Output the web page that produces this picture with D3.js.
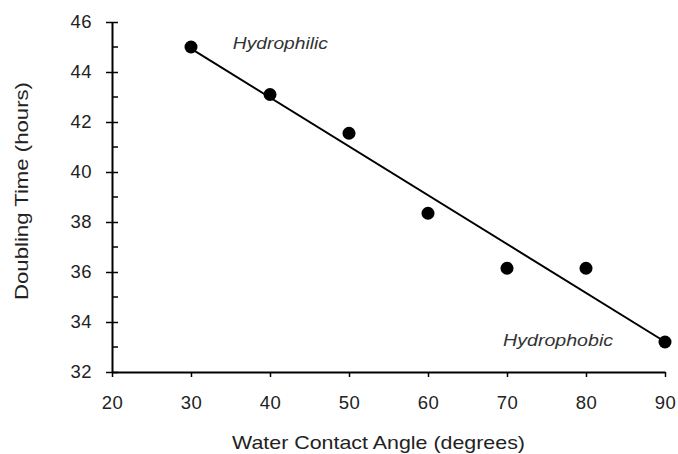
<!DOCTYPE html>
<html><head><meta charset="utf-8">
<script src="https://cdn.jsdelivr.net/npm/d3@7"></script>
<style>body{margin:0;background:#fff;}svg{display:block;}</style>
</head><body>
<svg id="c" width="678" height="454"></svg>
<script>
const angles = [30, 40, 50, 60, 70, 80, 90];
const doublingTimes = [45.0, 43.1, 41.55, 38.35, 36.15, 36.15, 33.2];
const xTicks = [20, 30, 40, 50, 60, 70, 80, 90];
const yTicks = [32, 34, 36, 38, 40, 42, 44, 46];
const yMinorTicks = [33, 35, 37, 39, 41, 43, 45];
const annotations = [
  {text: "Hydrophilic", x: 35.3, y: 44.92, len: 95},
  {text: "Hydrophobic", x: 69.5, y: 33.04, len: 110}
];

const svg = d3.select("#c");
const x = d3.scaleLinear().domain([20, 90]).range([112, 665]);
const y = d3.scaleLinear().domain([32, 46]).range([372, 22]);
const font = "'Liberation Sans', Arial, sans-serif";
const txt = "#222";

// regression line computed from data
const n = angles.length;
const mx = d3.mean(angles), my = d3.mean(doublingTimes);
let sxy = 0, sxx = 0;
for (let i = 0; i < n; i++) { sxy += (angles[i]-mx)*(doublingTimes[i]-my); sxx += (angles[i]-mx)**2; }
const slope = sxy / sxx, icpt = my - slope*mx;
const x0 = d3.min(angles), x1 = d3.max(angles);

// axes
const gx = svg.append("g").attr("transform", `translate(0,${y(32)})`)
  .call(d3.axisBottom(x).tickValues(xTicks).tickSize(5).tickPadding(19).tickSizeOuter(0));
const gy = svg.append("g").attr("transform", `translate(${x(20)},0)`)
  .call(d3.axisLeft(y).tickValues(yTicks).tickSize(6).tickPadding(14).tickSizeOuter(0));
// crossing part of major y ticks
gy.selectAll(".tick").append("line").attr("x2", 6).attr("stroke", "#000").attr("stroke-width", 1.5);
// minor y ticks inside
svg.append("g").selectAll("line").data(yMinorTicks).join("line")
  .attr("x1", x(20)).attr("x2", x(20)+6).attr("y1", d=>y(d)).attr("y2", d=>y(d))
  .attr("stroke", "#000").attr("stroke-width", 1.5);

[gx, gy].forEach(g => {
  g.select(".domain").attr("stroke", "#000").attr("stroke-width", 2);
  g.selectAll(".tick line").attr("stroke", "#000").attr("stroke-width", 1.5);
  g.selectAll(".tick text").attr("font-family", font).attr("font-size", 18.5).attr("fill", txt)
    .attr("letter-spacing", 0.5);
});

// fit line
svg.append("line")
  .attr("x1", x(x0)).attr("y1", y(slope*x0+icpt))
  .attr("x2", x(x1)).attr("y2", y(slope*x1+icpt))
  .attr("stroke", "#000").attr("stroke-width", 2);

// points
svg.append("g").selectAll("circle").data(angles).join("circle")
  .attr("cx", d=>x(d)).attr("cy", (d,i)=>y(doublingTimes[i])).attr("r", 6.5).attr("fill", "#000");

// annotations
svg.append("g").selectAll("text").data(annotations).join("text")
  .attr("x", d=>x(d.x)).attr("y", d=>y(d.y)).attr("text-anchor", "start")
  .attr("font-family", font).attr("font-style", "italic").attr("font-size", 16).attr("fill", "#333")
  .attr("textLength", d=>d.len).attr("lengthAdjust", "spacingAndGlyphs")
  .text(d=>d.text);

// axis titles
svg.append("text").attr("x", 232).attr("y", 449).attr("text-anchor", "start")
  .attr("font-family", font).attr("font-size", 19).attr("fill", txt)
  .attr("textLength", 293).attr("lengthAdjust", "spacingAndGlyphs")
  .text("Water Contact Angle (degrees)");
svg.append("text").attr("transform", "translate(28,300) rotate(-90)").attr("text-anchor", "start")
  .attr("font-family", font).attr("font-size", 19).attr("fill", txt)
  .attr("textLength", 218).attr("lengthAdjust", "spacingAndGlyphs")
  .text("Doubling Time (hours)");
</script>
</body></html>
